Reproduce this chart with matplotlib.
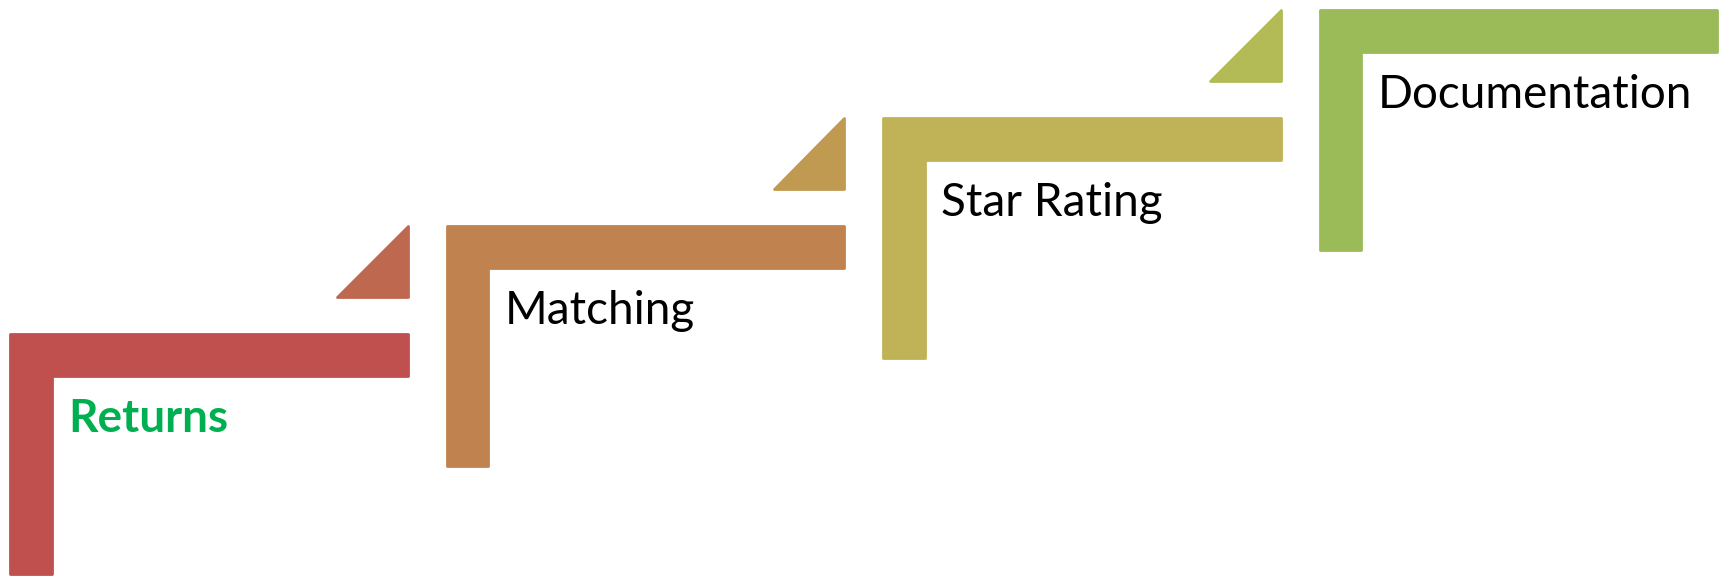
import matplotlib
matplotlib.use("Agg")
import matplotlib.pyplot as plt
from matplotlib.patches import Polygon

# Diagram content
labels = ["Returns", "Matching", "Star Rating", "Documentation"]
step_colors = ["#C0504D", "#C0824F", "#C0B257", "#9BBB59"]
tri_colors = ["#BF6850", "#BF9A50", "#B3BB57"]
text_colors = ["#00B050", "#000000", "#000000", "#000000"]
text_weights = ["bold", "normal", "normal", "normal"]

W, H = 1723, 576
fig = plt.figure(figsize=(W / 100, H / 100), dpi=100)
ax = fig.add_axes([0, 0, 1, 1])
ax.set_xlim(0, W)
ax.set_ylim(H, 0)
ax.axis("off")

# layout
x0, y0 = 10.0, 334.0
dx, dy = 436.5, 108.0
step_w, bar_t, step_h = 397.5, 41.5, 239.5
tri = 70.5

for i, (lab, col) in enumerate(zip(labels, step_colors)):
    x = x0 + dx * i
    y = y0 - dy * i
    pts = [(x, y), (x + step_w, y), (x + step_w, y + bar_t), (x + bar_t, y + bar_t),
           (x + bar_t, y + step_h), (x, y + step_h)]
    ax.add_patch(Polygon(pts, closed=True, facecolor=col, edgecolor=col,
                         linewidth=2.0, joinstyle="round"))
    ax.text(x + 58, y + 97.5, lab, fontsize=33, family="Lato",
            color=text_colors[i], fontweight=text_weights[i],
            ha="left", va="baseline")

for i, col in enumerate(tri_colors):
    rx = x0 + dx * i + step_w
    ty = y0 - dy * (i + 1)
    pts = [(rx, ty), (rx, ty + tri), (rx - tri, ty + tri)]
    ax.add_patch(Polygon(pts, closed=True, facecolor=col, edgecolor=col,
                         linewidth=2.0, joinstyle="round"))

fig.savefig("out.png", dpi=100)
